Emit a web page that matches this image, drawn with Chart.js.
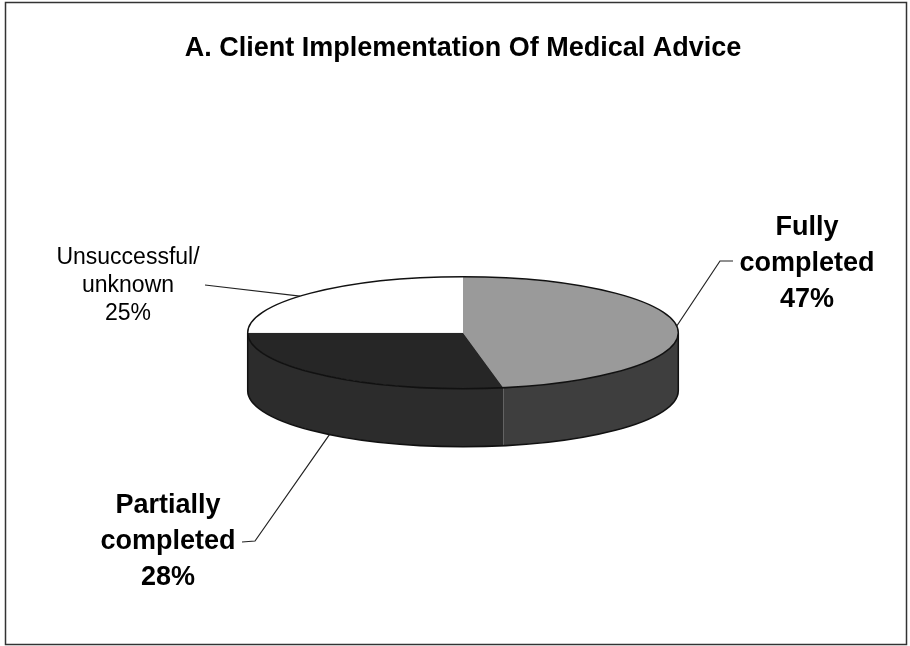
<!DOCTYPE html>
<html>
<head>
<meta charset="utf-8">
<script src="https://cdn.jsdelivr.net/npm/chart.js@4/dist/chart.umd.min.js"></script>
<style>
  body { margin: 0; background: #fff; }
  canvas { display: block; }
</style>
</head>
<body>
<canvas id="pieChart" width="910" height="646"></canvas>
<script>
// =======================
//  DATA
// =======================
const categories = ["Fully completed", "Partially completed", "Unsuccessful/ unknown"];
const shares = [47, 28, 25];
const labelLines = [["Fully", "completed"], ["Partially", "completed"], ["Unsuccessful/", "unknown"]];

// =======================
//  LOOK
// =======================
const topColors = ["#9a9a9a", "#262626", "#ffffff"];
const sideColors = ["#3e3e3e", "#2c2c2c", "#dddddd"];
const TILT = 0.26;   // vertical squash of the disc
const DEPTH = 58;    // thickness of the disc, px
const FONT = '"Liberation Sans", Arial, sans-serif';

// =======================
//  3D PIE PLUGIN
// =======================
const pie3d = {
  id: "pie3d",
  beforeDatasetsDraw(chart) {
    const ctx = chart.ctx;
    const arcs = chart.getDatasetMeta(0).data;
    const { x, y, outerRadius: r } = arcs[0];
    const ry = r * TILT;

    // side walls, front half only
    arcs.forEach((arc, i) => {
      const a1 = Math.max(arc.startAngle, 0);
      const a2 = Math.min(arc.endAngle, Math.PI);
      if (a2 <= a1) return;
      ctx.beginPath();
      ctx.ellipse(x, y, r, ry, 0, a1, a2);
      ctx.lineTo(x + r * Math.cos(a2), y + DEPTH + ry * Math.sin(a2));
      ctx.ellipse(x, y + DEPTH, r, ry, 0, a2, a1, true);
      ctx.closePath();
      ctx.fillStyle = sideColors[i];
      ctx.fill();
    });

    ctx.save();
    ctx.strokeStyle = "#111";
    ctx.lineWidth = 1.5;
    ctx.beginPath();
    ctx.ellipse(x, y + DEPTH, r, ry, 0, 0, Math.PI);
    ctx.moveTo(x - r, y);
    ctx.lineTo(x - r, y + DEPTH);
    ctx.moveTo(x + r, y);
    ctx.lineTo(x + r, y + DEPTH);
    ctx.stroke();
    ctx.restore();

    // squash the top face
    ctx.save();
    ctx.translate(x, y);
    ctx.scale(1, TILT);
    ctx.translate(-x, -y);
  },
  afterDatasetsDraw(chart) {
    const ctx = chart.ctx;
    ctx.restore();
    const arcs = chart.getDatasetMeta(0).data;
    const { x, y, outerRadius: r } = arcs[0];
    ctx.save();
    ctx.strokeStyle = "#111";
    ctx.lineWidth = 1.5;
    ctx.beginPath();
    ctx.ellipse(x, y, r, r * TILT, 0, 0, Math.PI * 2);
    ctx.stroke();
    ctx.restore();
  },
  afterDraw(chart) {
    const ctx = chart.ctx;
    const arcs = chart.getDatasetMeta(0).data;
    const { x, y, outerRadius: r } = arcs[0];
    const ry = r * TILT;
    const onTop = a => [x + r * Math.cos(a), y + ry * Math.sin(a)];
    const onBottom = a => [x + r * Math.cos(a), y + DEPTH + ry * Math.sin(a)];

    // leader lines
    const leaders = [
      [[733, 261], [720, 261], onTop(-0.12)],
      [[242, 542], [255, 541], onBottom(2.24)],
      [[205, 285], onTop(-2.43)]
    ];
    ctx.save();
    ctx.strokeStyle = "#222";
    ctx.lineWidth = 1.2;
    leaders.forEach(pts => {
      ctx.beginPath();
      ctx.moveTo(pts[0][0], pts[0][1]);
      pts.slice(1).forEach(p => ctx.lineTo(p[0], p[1]));
      ctx.stroke();
    });

    // labels
    const spots = [
      { cx: 807, base: 235, gap: 36, font: "bold 27px " + FONT },
      { cx: 168, base: 513, gap: 36, font: "bold 27px " + FONT },
      { cx: 128, base: 264, gap: 28, font: "23px " + FONT }
    ];
    ctx.fillStyle = "#000";
    ctx.textAlign = "center";
    ctx.textBaseline = "alphabetic";
    spots.forEach((s, i) => {
      ctx.font = s.font;
      const lines = labelLines[i].concat([shares[i] + "%"]);
      lines.forEach((t, k) => ctx.fillText(t, s.cx, s.base + k * s.gap));
    });

    // frame
    ctx.strokeStyle = "#333";
    ctx.lineWidth = 1.5;
    ctx.strokeRect(5.5, 2.5, 901, 642);
    ctx.restore();
  }
};

// =======================
//  CHART
// =======================
const pieChart = new Chart(document.getElementById("pieChart"), {
  type: "pie",
  data: {
    labels: categories,
    datasets: [{
      data: shares,
      backgroundColor: topColors,
      borderWidth: 0
    }]
  },
  options: {
    responsive: false,
    animation: false,
    layout: { padding: { left: 16, right: 0, top: 0, bottom: 98 } },
    plugins: {
      legend: { display: false },
      tooltip: { enabled: false },
      title: {
        display: true,
        text: "A. Client Implementation Of Medical Advice",
        color: "#000",
        font: { family: FONT, size: 27, weight: "bold" },
        padding: { top: 32, bottom: 53 }
      }
    }
  },
  plugins: [pie3d]
});
</script>
</body>
</html>
